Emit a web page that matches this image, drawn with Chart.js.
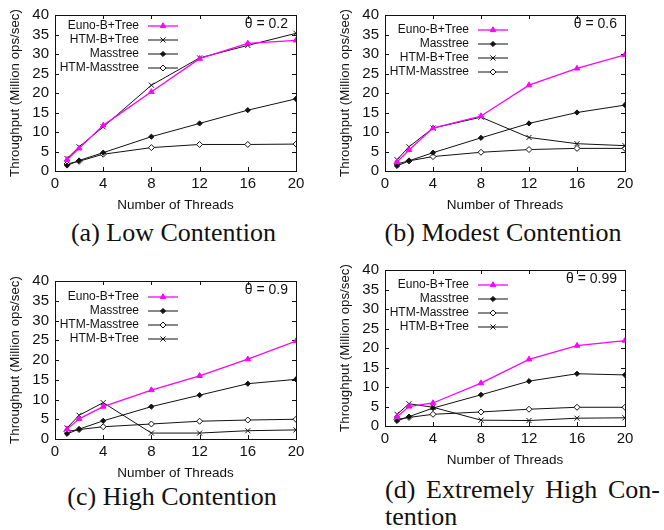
<!DOCTYPE html>
<html>
<head>
<meta charset="utf-8">
<script src="https://cdn.jsdelivr.net/npm/chart.js@4.4.1/dist/chart.umd.min.js"></script>
<style>
  html, body { margin: 0; padding: 0; background: #fff; }
  #wrap { position: relative; width: 664px; height: 530px; overflow: hidden; background: #fff; }
  #wrap canvas { position: absolute; }
  .cap { position: absolute; font-family: "Liberation Serif", "DejaVu Serif", serif; font-size: 26px; color: #111; white-space: nowrap; line-height: 28px; }
</style>
</head>
<body>
<div id="wrap">
  <canvas id="chartA" style="left:0;top:0"></canvas>
  <canvas id="chartB" style="left:332px;top:0"></canvas>
  <canvas id="chartC" style="left:0;top:265px"></canvas>
  <canvas id="chartD" style="left:332px;top:255px"></canvas>
  <div class="cap" style="left:0;width:347px;top:219px;text-align:center">(a) Low Contention</div>
  <div class="cap" style="left:332px;width:342px;top:219px;text-align:center">(b) Modest Contention</div>
  <div class="cap" style="left:0;width:344px;top:483px;text-align:center">(c) High Contention</div>
  <div class="cap" style="left:385px;width:275px;top:476px;text-align:justify;text-align-last:justify">(d) Extremely High Con-</div>
  <div class="cap" style="left:385px;top:503px">tention</div>
</div>
<script>
// Thread counts on the x axis
const threads = [1, 2, 4, 8, 12, 16, 20];
const xTickValues = [0, 4, 8, 12, 16, 20];
const yTickValues = [0, 5, 10, 15, 20, 25, 30, 35, 40];

// θ = 0.2 (low contention)
const lowEuno        = [2.9, 5.8, 11.7, 20.3, 28.8, 32.7, 33.5];
const lowHtmBtree    = [3.2, 6.2, 11.3, 22.0, 29.0, 32.2, 35.3];
const lowMasstree    = [1.4, 2.7, 4.7, 8.8, 12.2, 15.6, 18.5];
const lowHtmMasstree = [1.8, 2.5, 4.3, 6.0, 6.8, 6.8, 6.9];

// θ = 0.6 (modest contention)
const modEuno        = [2.3, 5.4, 11.0, 14.1, 22.0, 26.3, 29.8];
const modMasstree    = [1.3, 2.6, 4.7, 8.5, 12.2, 15.0, 16.9];
const modHtmBtree    = [2.9, 6.2, 11.0, 13.8, 8.6, 7.0, 6.5];
const modHtmMasstree = [1.8, 2.6, 3.7, 4.8, 5.5, 5.8, 5.8];

// θ = 0.9 (high contention)
const highEuno        = [2.5, 5.1, 8.2, 12.4, 16.0, 20.2, 24.8];
const highMasstree    = [1.3, 2.5, 4.6, 8.2, 11.1, 14.0, 15.1];
const highHtmMasstree = [1.9, 2.4, 3.1, 3.8, 4.5, 4.8, 5.0];
const highHtmBtree    = [2.8, 6.0, 9.2, 1.5, 1.5, 2.1, 2.3];

// θ = 0.99 (extremely high contention)
const extEuno        = [2.4, 5.0, 5.9, 11.0, 17.1, 20.6, 21.9];
const extMasstree    = [1.3, 2.4, 4.6, 8.0, 11.5, 13.4, 13.1];
const extHtmMasstree = [1.7, 2.2, 3.0, 3.6, 4.3, 4.8, 4.8];
const extHtmBtree    = [3.0, 5.7, 4.8, 1.5, 1.4, 2.0, 2.1];

const SANS = '"Liberation Sans", Arial, Helvetica, sans-serif';

// Look of each index implementation
const seriesStyle = {
  'Euno-B+Tree':  { color: '#ff00ff', pointStyle: 'triangle', fill: '#ff00ff', radius: 3.2, width: 1.3 },
  'HTM-B+Tree':   { color: '#111111', pointStyle: 'crossRot', fill: '#111111', radius: 3.6, width: 1.0 },
  'Masstree':     { color: '#111111', pointStyle: 'rectRot',  fill: '#111111', radius: 2.6, width: 1.0 },
  'HTM-Masstree': { color: '#111111', pointStyle: 'rectRot',  fill: '#ffffff', radius: 3.0, width: 1.0 }
};

function makeDataset(label, values) {
  const s = seriesStyle[label];
  return {
    label,
    data: threads.map((t, i) => ({ x: t, y: values[i] })),
    borderColor: s.color,
    backgroundColor: s.fill,
    borderWidth: s.width,
    pointStyle: s.pointStyle,
    pointRadius: s.radius,
    pointBorderWidth: 1,
    pointBorderColor: s.color,
    pointBackgroundColor: s.fill,
    tension: 0,
    fill: false
  };
}

// Frame, inward ticks on all four sides, key and θ tag
const gnuFrame = {
  id: 'gnuFrame',
  beforeDatasetsDraw(chart) {
    const { ctx, chartArea: a, scales: { x, y } } = chart;
    ctx.save();
    ctx.strokeStyle = '#111';
    ctx.lineWidth = 1;
    ctx.beginPath();
    const tl = 4;
    xTickValues.forEach(v => {
      const px = Math.round(x.getPixelForValue(v)) + 0.5;
      ctx.moveTo(px, a.bottom); ctx.lineTo(px, a.bottom - tl);
      ctx.moveTo(px, a.top); ctx.lineTo(px, a.top + tl);
    });
    yTickValues.forEach(v => {
      const py = Math.round(y.getPixelForValue(v)) + 0.5;
      ctx.moveTo(a.left, py); ctx.lineTo(a.left + tl, py);
      ctx.moveTo(a.right, py); ctx.lineTo(a.right - tl, py);
    });
    ctx.stroke();
    ctx.strokeRect(Math.round(a.left) + 0.5, Math.round(a.top) + 0.5,
                   Math.round(a.right - a.left), Math.round(a.bottom - a.top));
    ctx.restore();
  },
  afterDraw(chart, args, opts) {
    const { ctx, chartArea: a } = chart;
    ctx.save();
    ctx.font = '12px ' + SANS;
    ctx.textBaseline = 'middle';
    chart.data.datasets.forEach((ds, i) => {
      const yy = a.top + opts.keyTop + i * 14;
      ctx.fillStyle = '#111';
      ctx.textAlign = 'right';
      ctx.fillText(ds.label, a.left + 84, yy);
      ctx.strokeStyle = ds.borderColor;
      ctx.lineWidth = ds.borderWidth;
      ctx.beginPath();
      ctx.moveTo(a.left + 93, yy);
      ctx.lineTo(a.left + 123, yy);
      ctx.stroke();
      ctx.fillStyle = ds.pointBackgroundColor;
      ctx.strokeStyle = ds.pointBorderColor;
      ctx.lineWidth = 1;
      Chart.helpers.drawPoint(ctx, {
        pointStyle: ds.pointStyle, radius: ds.pointRadius, rotation: 0, borderWidth: 1
      }, a.left + 108, yy);
    });
    ctx.fillStyle = '#111';
    ctx.font = '14px ' + SANS;
    ctx.textAlign = 'right';
    ctx.fillText(opts.tag, a.right - 8, a.top + 9);
    ctx.restore();
  }
};

function makePanel(id, area, tag, keyTop, datasets) {
  const canvas = document.getElementById(id);
  const W = 332, H = area.bottom + 41;
  canvas.width = W; canvas.height = H;
  canvas.style.width = W + 'px'; canvas.style.height = H + 'px';
  return new Chart(canvas, {
    type: 'line',
    data: { datasets },
    plugins: [gnuFrame],
    options: {
      responsive: false,
      animation: false,
      devicePixelRatio: 1,
      layout: { padding: { left: 0, top: area.top, right: W - area.right, bottom: 0 } },
      plugins: {
        legend: { display: false },
        tooltip: { enabled: false },
        gnuFrame: { tag, keyTop }
      },
      scales: {
        x: {
          type: 'linear', min: 0, max: 20,
          afterBuildTicks: s => { s.ticks = xTickValues.map(v => ({ value: v })); },
          afterFit: s => { s.height = H - area.bottom; },
          grid: { display: false, drawTicks: false },
          border: { display: false },
          ticks: { color: '#111', font: { family: SANS, size: 15 }, padding: 4, maxRotation: 0, autoSkip: false },
          title: { display: true, text: 'Number of Threads', color: '#111',
                   font: { family: SANS, size: 13.5, lineHeight: 1 }, padding: { top: 0, bottom: 0 } }
        },
        y: {
          type: 'linear', min: 0, max: 40,
          afterBuildTicks: s => { s.ticks = yTickValues.map(v => ({ value: v })); },
          afterFit: s => { s.width = area.left; },
          grid: { display: false, drawTicks: false },
          border: { display: false },
          ticks: { color: '#111', font: { family: SANS, size: 15 }, padding: 6, autoSkip: false },
          title: { display: true, text: 'Throughput (Million ops/sec)', color: '#111',
                   font: { family: SANS, size: 13.3 }, padding: { top: area.titleX - 8, bottom: 0 } }
        }
      }
    }
  });
}

makePanel('chartA', { left: 55, right: 296, top: 13, bottom: 171, titleX: 15 }, 'θ = 0.2', 11, [
  makeDataset('Euno-B+Tree', lowEuno),
  makeDataset('HTM-B+Tree', lowHtmBtree),
  makeDataset('Masstree', lowMasstree),
  makeDataset('HTM-Masstree', lowHtmMasstree)
]);

makePanel('chartB', { left: 53, right: 293, top: 13, bottom: 171, titleX: 13 }, 'θ = 0.6', 15, [
  makeDataset('Euno-B+Tree', modEuno),
  makeDataset('Masstree', modMasstree),
  makeDataset('HTM-B+Tree', modHtmBtree),
  makeDataset('HTM-Masstree', modHtmMasstree)
]);

makePanel('chartC', { left: 55, right: 296, top: 16, bottom: 174, titleX: 15 }, 'θ = 0.9', 16, [
  makeDataset('Euno-B+Tree', highEuno),
  makeDataset('Masstree', highMasstree),
  makeDataset('HTM-Masstree', highHtmMasstree),
  makeDataset('HTM-B+Tree', highHtmBtree)
]);

makePanel('chartD', { left: 53, right: 293, top: 13, bottom: 171, titleX: 13 }, 'θ = 0.99', 15, [
  makeDataset('Euno-B+Tree', extEuno),
  makeDataset('Masstree', extMasstree),
  makeDataset('HTM-Masstree', extHtmMasstree),
  makeDataset('HTM-B+Tree', extHtmBtree)
]);
</script>
</body>
</html>
